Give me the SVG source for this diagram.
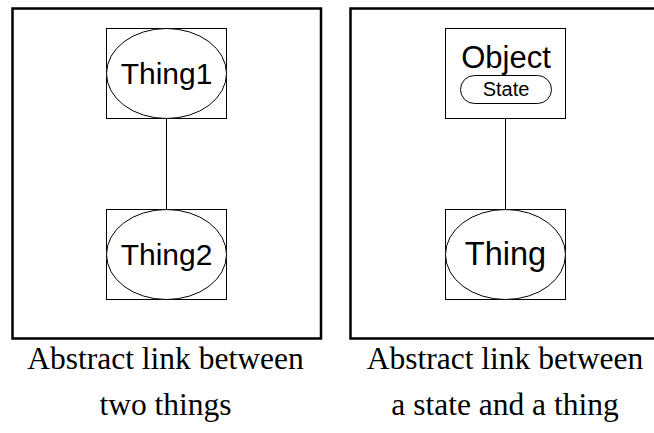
<svg xmlns="http://www.w3.org/2000/svg" width="654" height="433" viewBox="0 0 654 433">
<style>
.panel{fill:none;stroke:#000;stroke-width:2.5}
.box{fill:#fff;stroke:#000;stroke-width:1}
.shape{fill:#fff;stroke:#000;stroke-width:1}
.lbl{font-family:"Liberation Sans",Arial,sans-serif;fill:#000;text-anchor:middle}
.cap{font-family:"Liberation Serif","Times New Roman",serif;font-size:31.5px;fill:#000;text-anchor:middle}
.link{stroke:#000;stroke-width:1;fill:none}
</style>
<rect fill="#fff" width="654" height="433"/>
<rect class="panel" x="12.5" y="8.5" width="308.5" height="330"/>
<rect class="panel" x="350.5" y="8.5" width="310" height="330"/>
<g id="connectors">
<line class="link" x1="166.5" y1="118" x2="166.5" y2="209"/>
<line class="link" x1="505.5" y1="104" x2="505.5" y2="209"/>
</g>
<g id="thing1">
<rect class="box" x="106.5" y="28.5" width="120" height="90"/>
<ellipse class="shape" cx="166.5" cy="73.5" rx="60" ry="45"/>
<text class="lbl" x="166.5" y="84" font-size="30">Thing1</text>
</g>
<g id="thing2">
<rect class="box" x="106.5" y="209.5" width="120" height="90"/>
<ellipse class="shape" cx="166.5" cy="254.5" rx="60" ry="45"/>
<text class="lbl" x="166.5" y="265" font-size="30">Thing2</text>
</g>
<g id="object">
<rect class="box" x="445.5" y="28.5" width="120" height="90"/>
<text class="lbl" x="506" y="68" font-size="31">Object</text>
<rect class="shape" x="460.5" y="75.5" width="91" height="28" rx="14" ry="14"/>
<text class="lbl" x="506" y="96" font-size="20">State</text>
</g>
<g id="thing">
<rect class="box" x="445.5" y="209.5" width="120" height="90"/>
<ellipse class="shape" cx="505.5" cy="254.5" rx="60" ry="45"/>
<text class="lbl" x="505.5" y="265" font-size="32.5">Thing</text>
</g>
<g id="captions">
<text class="cap" x="165.5" y="369">Abstract link between</text>
<text class="cap" x="165.5" y="415">two things</text>
<text class="cap" x="505" y="369">Abstract link between</text>
<text class="cap" x="505" y="415">a state and a thing</text>
</g>
</svg>
